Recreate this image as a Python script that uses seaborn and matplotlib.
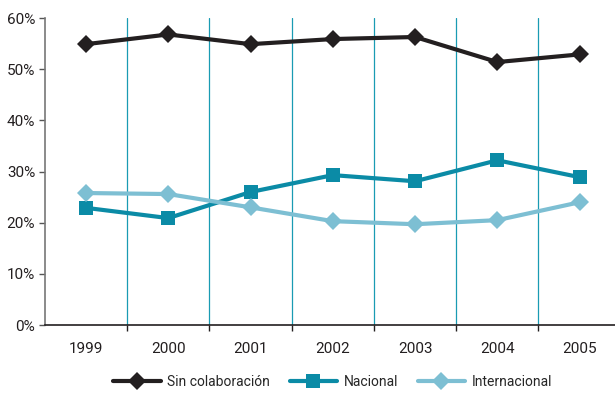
import matplotlib
matplotlib.use("Agg")
import matplotlib.pyplot as plt
import seaborn as sns
import pandas as pd
from matplotlib.ticker import FixedLocator, FuncFormatter

years = ["1999", "2000", "2001", "2002", "2003", "2004", "2005"]
sin_colaboracion = [54.9, 56.8, 54.9, 55.9, 56.3, 51.4, 52.9]
nacional = [22.9, 20.9, 26.0, 29.3, 28.1, 32.2, 28.9]
internacional = [25.8, 25.6, 23.0, 20.3, 19.7, 20.5, 24.0]
series_names = ["Sin colaboración", "Nacional", "Internacional"]
y_ticks = [0, 10, 20, 30, 40, 50, 60]

sns.set_theme(style="white")
plt.rcParams['font.family'] = ['Liberation Sans Narrow', 'Roboto', 'DejaVu Sans']

rows = []
for name, vals in zip(series_names, [sin_colaboracion, nacional, internacional]):
    for i, (y, v) in enumerate(zip(years, vals)):
        rows.append({"pos": i, "year": y, "value": v, "serie": name})
df = pd.DataFrame(rows)

fig = plt.figure(figsize=(6.15, 3.93), dpi=100)
ax = fig.add_axes([0.073, 0.173, 0.927, 0.781])

palette = {"Sin colaboración": "#231f20", "Nacional": "#0b8ba6", "Internacional": "#7dbfd3"}
markers = {"Sin colaboración": "D", "Nacional": "s", "Internacional": "D"}
sns.lineplot(data=df, x="pos", y="value", hue="serie", style="serie",
             palette=palette, markers=markers, dashes=False, linewidth=3,
             markersize=9.5, markeredgewidth=0, ax=ax, legend=True)

ax.set_xlim(-0.5, 6.43)
ax.set_ylim(0, 60)
ax.set_xticks(range(len(years)))
ax.set_xticklabels(years, fontsize=11)
ax.xaxis.set_minor_locator(FixedLocator([i + 0.5 for i in range(len(years) - 1)]))
for b in [i + 0.5 for i in range(len(years) - 1)]:
    ax.axvline(b, color="#1a9bb3", linewidth=0.9, zorder=0)
ax.tick_params(axis="x", which="major", length=0, pad=12)
ax.tick_params(axis="x", which="minor", length=4, width=1, color="#231f20", direction="out", bottom=True)
ax.set_yticks(y_ticks)
ax.yaxis.set_major_formatter(FuncFormatter(lambda v, p: f"{int(v)}%"))
ax.tick_params(axis="y", length=4, width=1, color="#555555", labelsize=11, left=True, direction="out", pad=3)
for lab in ax.get_yticklabels() + ax.get_xticklabels():
    lab.set_color("#231f20")
ax.set_xlabel("")
ax.set_ylabel("")
for s in ["top", "right"]:
    ax.spines[s].set_visible(False)
ax.spines["left"].set_color("#777777")
ax.spines["left"].set_linewidth(1.2)
ax.spines["bottom"].set_color("#231f20")
ax.spines["bottom"].set_linewidth(1.2)

handles, labels = ax.get_legend_handles_labels()
ax.legend(handles, labels, loc="center", bbox_to_anchor=(0.505, -0.185), ncol=3,
          frameon=False, fontsize=10, handlelength=3.4, columnspacing=1.4, handletextpad=0.5)

fig.savefig("out.png", dpi=100)
